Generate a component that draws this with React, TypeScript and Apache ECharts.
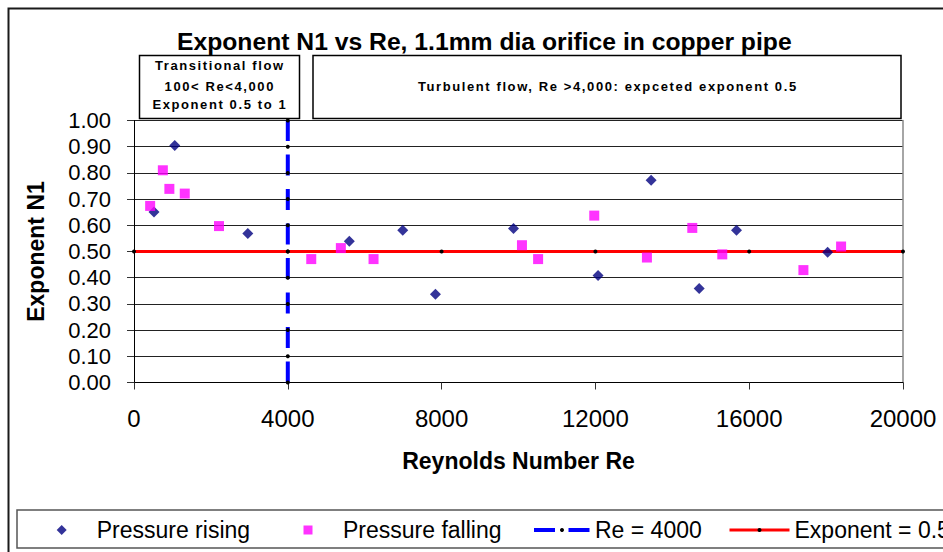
import React, { useEffect, useRef } from 'react';
import * as echarts from 'echarts';

// ---- data ----
const risingRe = [520, 1060, 2960, 5600, 6990, 7840, 9870, 12070, 13450, 14700, 15670, 18040];
const risingN1 = [0.651, 0.905, 0.569, 0.539, 0.581, 0.337, 0.588, 0.408, 0.772, 0.359, 0.581, 0.497];

const fallingRe = [420, 750, 920, 1320, 2210, 4610, 5380, 6230, 10090, 10510, 11970, 13340, 14520, 15300, 17410, 18390];
const fallingN1 = [0.674, 0.81, 0.739, 0.721, 0.597, 0.471, 0.513, 0.471, 0.524, 0.471, 0.637, 0.477, 0.59, 0.489, 0.429, 0.519];

const reLineX = [4000, 4000, 4000, 4000, 4000, 4000, 4000, 4000, 4000, 4000, 4000];
const reLineY = [0, 0.1, 0.2, 0.3, 0.4, 0.5, 0.6, 0.7, 0.8, 0.9, 1.0];

const expLineX = [0, 4000, 8000, 12000, 16000, 20000];
const expLineY = [0.5, 0.5, 0.5, 0.5, 0.5, 0.5];

const seriesNames = ['Pressure rising', 'Pressure falling', 'Re = 4000', 'Exponent = 0.5'];
const titleText = 'Exponent N1 vs Re, 1.1mm dia orifice in copper pipe';
const xName = 'Reynolds Number Re';
const yName = 'Exponent N1';
const box1Lines = ['Transitional flow', '100< Re<4,000', 'Exponent 0.5 to 1'];
const box2Text = 'Turbulent flow, Re >4,000: expceted exponent 0.5';

const zip = (xs: number[], ys: number[]) => xs.map((x, i) => [x, ys[i]]);

const FONT = '"Liberation Sans", Arial, sans-serif';

export default function App() {
  const ref = useRef<HTMLDivElement>(null);

  useEffect(() => {
    if (!ref.current) return;
    const chart = echarts.init(ref.current, undefined, { renderer: 'svg' });
    const legendText = (padLeft: number) => ({
      fontSize: 23,
      color: '#000',
      fontFamily: FONT,
      padding: [0, 0, 0, padLeft],
    });
    const boxTextStyle = (text: string) => ({
      text,
      fill: '#000',
      fontSize: 13,
      fontWeight: 'bold',
      fontFamily: FONT,
      align: 'center',
      verticalAlign: 'middle',
    });
    const option: any = {
      animation: false,
      backgroundColor: '#ffffff',
      textStyle: { fontFamily: FONT },
      title: {
        text: titleText,
        left: 177,
        top: 29,
        padding: 0,
        textStyle: { fontSize: 24.7, fontWeight: 'bold', color: '#000', fontFamily: FONT },
      },
      grid: { left: 134, right: 40, top: 120.5, bottom: 169.5, containLabel: false },
      xAxis: {
        type: 'value',
        min: 0,
        max: 20000,
        interval: 4000,
        name: xName,
        nameLocation: 'middle',
        nameGap: 67,
        nameTextStyle: { fontSize: 23, fontWeight: 'bold', color: '#000', fontFamily: FONT },
        axisLine: { show: true, onZero: false, lineStyle: { color: '#000', width: 1 } },
        axisTick: { show: true, length: 7, lineStyle: { color: '#333' } },
        axisLabel: {
          fontSize: 24,
          margin: 24,
          color: '#000',
          fontFamily: FONT,
          formatter: (v: number) => String(v),
        },
        splitLine: { show: false },
      },
      yAxis: [
        {
          type: 'value',
          min: 0,
          max: 1,
          interval: 0.1,
          name: yName,
          nameLocation: 'middle',
          nameRotate: 90,
          nameGap: 87,
          nameTextStyle: { fontSize: 23, fontWeight: 'bold', color: '#000', fontFamily: FONT },
          axisLine: { show: true, onZero: false, lineStyle: { color: '#000', width: 1 } },
          axisTick: { show: true, length: 7, lineStyle: { color: '#333' } },
          axisLabel: {
            fontSize: 22,
            margin: 23,
            color: '#000',
            fontFamily: FONT,
            formatter: (v: number) => v.toFixed(2),
          },
          splitLine: { show: true, lineStyle: { color: '#222', width: 1 } },
        },
        {
          type: 'value',
          min: 0,
          max: 1,
          position: 'right',
          axisLine: { show: true, onZero: false, lineStyle: { color: '#888', width: 1.5 } },
          axisTick: { show: false },
          axisLabel: { show: false },
          splitLine: { show: false },
        },
      ],
      legend: [
        {
          left: 56.7,
          top: 518.5,
          padding: 0,
          itemWidth: 10,
          itemHeight: 10,
          symbolKeepAspect: true,
          selectedMode: false,
          textStyle: legendText(25),
          data: [{ name: seriesNames[0], icon: 'diamond', itemStyle: { color: '#000080' } }],
        },
        {
          left: 303.5,
          top: 518.5,
          padding: 0,
          itemWidth: 9,
          itemHeight: 9,
          symbolKeepAspect: true,
          selectedMode: false,
          textStyle: legendText(25.5),
          data: [{ name: seriesNames[1], icon: 'rect', itemStyle: { color: '#ff00ff' } }],
        },
        {
          left: 532,
          top: 518.5,
          padding: 0,
          itemWidth: 56,
          itemHeight: 5,
          selectedMode: false,
          textStyle: legendText(0),
          data: [
            {
              name: seriesNames[2],
              itemStyle: { color: '#000' },
              lineStyle: { color: '#0000ff', width: 4, type: [21, 13.5] },
            },
          ],
        },
        {
          left: 728,
          top: 518.5,
          padding: 0,
          itemWidth: 60,
          itemHeight: 5,
          selectedMode: false,
          textStyle: legendText(0),
          data: [
            {
              name: seriesNames[3],
              itemStyle: { color: '#000' },
              lineStyle: { color: '#ff0000', width: 3, type: 'solid' },
            },
          ],
        },
      ],
      graphic: [
        {
          type: 'rect',
          silent: true,
          z: 100,
          shape: { x: 8.5, y: 8.5, width: 1000, height: 700 },
          style: { fill: 'none', stroke: '#1a1a1a', lineWidth: 2 },
        },
        {
          type: 'rect',
          silent: true,
          z: 100,
          shape: { x: 17, y: 510, width: 1000, height: 38 },
          style: { fill: 'none', stroke: '#555', lineWidth: 1.5 },
        },
        {
          type: 'rect',
          silent: true,
          z: 100,
          shape: { x: 139.5, y: 55.5, width: 160, height: 63 },
          style: { fill: '#fff', stroke: '#000', lineWidth: 1.5 },
        },
        { type: 'text', silent: true, z: 101, x: 219.8, y: 65.5, style: boxTextStyle(box1Lines[0]) },
        { type: 'text', silent: true, z: 101, x: 219.8, y: 86.5, style: boxTextStyle(box1Lines[1]) },
        { type: 'text', silent: true, z: 101, x: 219.8, y: 104, style: boxTextStyle(box1Lines[2]) },
        {
          type: 'rect',
          silent: true,
          z: 100,
          shape: { x: 313, y: 55.5, width: 588, height: 63 },
          style: { fill: '#fff', stroke: '#000', lineWidth: 1.5 },
        },
        { type: 'text', silent: true, z: 101, x: 607.8, y: 86.5, style: boxTextStyle(box2Text) },
      ],
      series: [
        {
          name: seriesNames[3],
          type: 'line',
          data: zip(expLineX, expLineY),
          symbol: 'circle',
          symbolSize: 4,
          itemStyle: { color: '#000' },
          lineStyle: { color: '#ff0000', width: 3 },
          z: 2,
        },
        {
          name: seriesNames[2],
          type: 'line',
          data: zip(reLineX, reLineY),
          symbol: 'circle',
          symbolSize: 4,
          itemStyle: { color: '#000' },
          lineStyle: { color: '#0000ff', width: 4, type: [21, 13.5] },
          z: 3,
        },
        {
          name: seriesNames[0],
          type: 'scatter',
          data: zip(risingRe, risingN1),
          symbol: 'diamond',
          symbolSize: 11,
          itemStyle: { color: '#000080' },
          z: 4,
        },
        {
          name: seriesNames[1],
          type: 'scatter',
          data: zip(fallingRe, fallingN1),
          symbol: 'rect',
          symbolSize: 10,
          itemStyle: { color: '#ff00ff' },
          z: 5,
        },
      ],
    };
    chart.setOption(option);
    return () => {
      chart.dispose();
    };
  }, []);

  return (
    <>
      <style>{'svg text[style*="13px"]{letter-spacing:1.6px;}'}</style>
      <div
        ref={ref}
        style={{ position: 'fixed', left: 0, top: 0, width: 943, height: 552, background: '#fff' }}
      />
    </>
  );
}
